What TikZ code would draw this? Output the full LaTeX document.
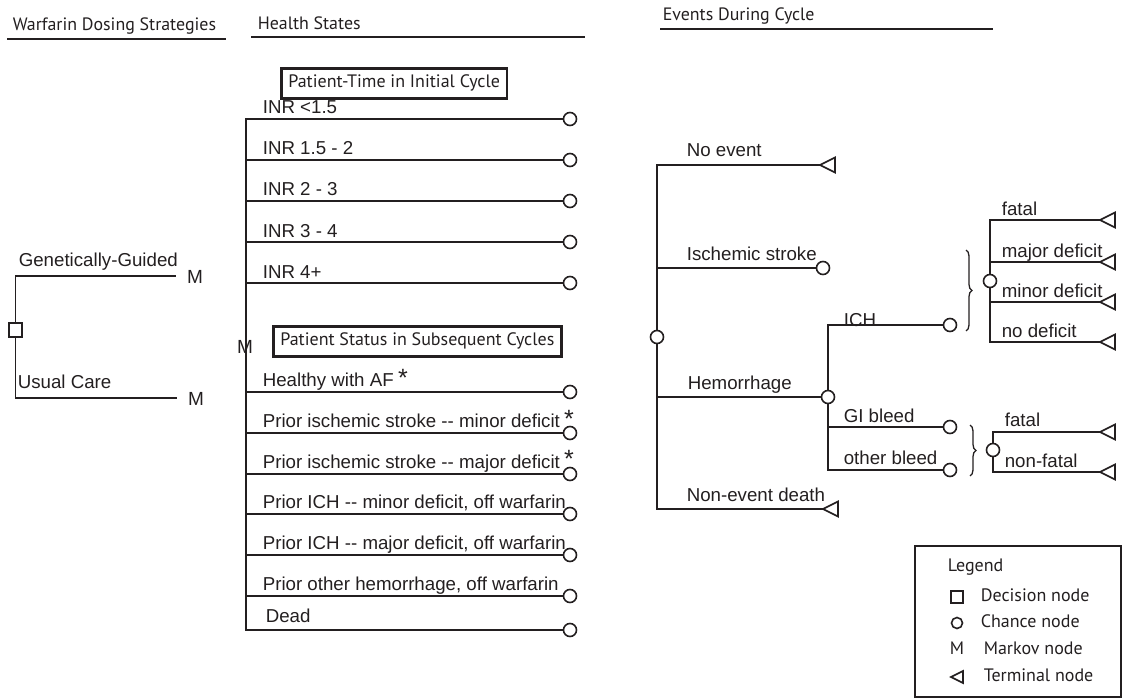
\documentclass[tikz,border=0pt]{standalone}
\usepackage{fontspec}
\setmainfont{Liberation Sans}
\newfontfamily\hdr{PT Sans}
\usetikzlibrary{decorations.pathreplacing}
\definecolor{ink}{RGB}{35,31,32}
\begin{document}
\begin{tikzpicture}[x=1pt,y=-1pt, line width=1.6pt, color=ink,
  lab/.style={anchor=base west, inner sep=0pt, font=\fontsize{18.7}{20}\selectfont},
  hd/.style={anchor=base west, inner sep=0pt, font=\hdr\fontsize{17.9}{20}\selectfont},
  leg/.style={anchor=base west, inner sep=0pt, font=\hdr\fontsize{18}{20}\selectfont},
  chance/.style={circle, draw=ink, fill=white, minimum size=13pt, inner sep=0pt, line width=1.6pt},
  dec/.style={rectangle, draw=ink, fill=white, minimum width=13pt, minimum height=14pt, inner sep=0pt, line width=1.6pt},
  mk/.style={anchor=base, inner sep=0pt, font=\fontsize{19}{20}\selectfont},
  ast/.style={anchor=base, inner sep=0pt, font=\fontsize{25}{25}\selectfont},
  sbox/.style={draw=ink, line width=2.6pt, anchor=north west, inner xsep=7pt, inner ysep=0pt, minimum height=30pt, font=\hdr\fontsize{18}{20}\selectfont},
  term/.pic={\draw[ink, line width=1.6pt, line join=miter] (0,0) -- (15,-7.5) -- (15,7.5) -- cycle;},
  uline/.style={line width=2.2pt}
]
\useasboundingbox (0,0) rectangle (1122,698);

% ---------- headers ----------
\node[hd] (hA) at (12,31) {Warfarin Dosing Strategies};
\draw[uline] (7,39) -- (226,39);
\node[hd] (hB) at (257,30) {Health States};
\draw[uline] (251,37) -- (585,37);
\node[hd] (hC) at (662,21) {Events During Cycle};
\draw[uline] (660,29) -- (993,29);

% ---------- decision part ----------
\node[dec] (d) at (15.5,330) {};
\node[mk] (ggM) at (195,283) {M};
\node[mk] (ucM) at (196,405) {M};
\draw (d.north) |- ([yshift=7pt,xshift=-10pt]ggM.base west);
\draw (d.south) |- ([yshift=7pt,xshift=-10pt]ucM.base west);
\node[lab] (tGG) at (18,266) {Genetically-Guided};
\node[lab] (tUC) at (17,388) {Usual Care};

% ---------- health states ----------
\node[sbox] (box1) at (280,67) {Patient-Time in Initial Cycle};
\node[sbox] (box2) at (272,325) {Patient Status in Subsequent Cycles};

\node[chance] (h1) at (570,119) {};
\node[chance] (h2) at (570,160) {};
\node[chance] (h3) at (570,201) {};
\node[chance] (h4) at (570,242) {};
\node[chance] (h5) at (570,283) {};
\node[chance] (s1) at (570,392) {};
\node[chance] (s2) at (570,433) {};
\node[chance] (s3) at (570,474) {};
\node[chance] (s4) at (570,514) {};
\node[chance] (s5) at (570,555) {};
\node[chance] (s6) at (570,596) {};
\node[chance] (s7) at (570,630) {};

\coordinate (hm0) at (246,347);
\draw (246,119) -- (246,631);
\foreach \n in {h1,h2,h3,h4,h5,s1,s2,s3,s4,s5,s6,s7}{
  \draw (hm0) |- (\n.west);
}
\node[mk, anchor=center] (hm) at (245,347) {M};

\node[lab] (l1) at (262,114) {INR <1.5};
\node[lab] (l2) at (262,155) {INR 1.5 - 2};
\node[lab] (l3) at (262,196) {INR 2 - 3};
\node[lab] (l4) at (262,237) {INR 3 - 4};
\node[lab] (l5) at (262,278) {INR 4+};
\node[lab] (m1) at (262,386) {Healthy with AF};
\node[lab] (m2) at (262,427) {Prior ischemic stroke -{}- minor deficit};
\node[lab] (m3) at (262,468) {Prior ischemic stroke -{}- major deficit};
\node[lab] (m4) at (262,508) {Prior ICH -{}- minor deficit, off warfarin};
\node[lab] (m5) at (262,549) {Prior ICH -{}- major deficit, off warfarin};
\node[lab] (m6) at (262,590) {Prior other hemorrhage, off warfarin};
\node[lab] (m7) at (265,622) {Dead};
\node[ast] (a1) at (403,386) {*};
\node[ast] (a2) at (569,427) {*};
\node[ast] (a3) at (569,467) {*};

% ---------- events ----------
\node[chance] (e0) at (657,337) {};
\node[chance] (isc) at (823,268) {};
\node[chance] (hem) at (828,397) {};
\node[chance] (ich) at (950,325) {};
\node[chance] (gi) at (950,427) {};
\node[chance] (ob) at (950,470) {};
\node[chance] (ichs) at (990,281) {};
\node[chance] (gs) at (993,450) {};

\coordinate (noev) at (820,165);
\coordinate (ned) at (823,509);
\coordinate (f1) at (1100,220);
\coordinate (maj) at (1100,262);
\coordinate (mnr) at (1100,302);
\coordinate (nod) at (1100,342);
\coordinate (f2) at (1100,432);
\coordinate (nf) at (1100,472);
\foreach \t in {noev,ned,f1,maj,mnr,nod,f2,nf}{ \pic at (\t) {term}; }

\draw (e0.north) |- (noev);
\draw (e0.north) |- (isc.west);
\draw (e0.south) |- (hem.west);
\draw (e0.south) |- (ned);
\draw (hem.north) |- (ich.west);
\draw (hem.south) |- (gi.west);
\draw (hem.south) |- (ob.west);
\draw (ichs.north) |- (f1);
\draw (ichs.north) |- (maj);
\draw (ichs.south) |- (mnr);
\draw (ichs.south) |- (nod);
\draw (gs.north) |- (f2);
\draw (gs.south) |- (nf);

\draw[line width=1.3pt, decorate, decoration={brace, amplitude=6pt}] (966,250) -- (966,331);
\draw[line width=1.3pt, decorate, decoration={brace, amplitude=6pt}] (970,425) -- (970,476);

\node[lab] (tNE) at (686,157) {No event};
\node[lab] (tIS) at (686,260) {Ischemic stroke};
\node[lab] (tHE) at (687,389) {Hemorrhage};
\node[lab] (tND) at (686,501) {Non-event death};
\node[lab] (tICH) at (843,326) {ICH};
\node[lab] (tGI) at (843,422) {GI bleed};
\node[lab] (tOB) at (843,464) {other bleed};
\node[lab] (tF1) at (1001,215) {fatal};
\node[lab] (tMA) at (1001,257) {major deficit};
\node[lab] (tMI) at (1001,297) {minor deficit};
\node[lab] (tNO) at (1001,337) {no deficit};
\node[lab] (tF2) at (1004,426) {fatal};
\node[lab] (tNF) at (1004,467) {non-fatal};

% ---------- legend ----------
\draw[line width=1.6pt] (915,546) rectangle (1121,697);
\node[leg] (lgT) at (947,571) {Legend};
\node[dec, minimum width=12pt, minimum height=12pt] (lgD) at (957,597) {};
\node[leg] (lgDt) at (980,601) {Decision node};
\node[chance, minimum size=11pt] (lgC) at (957,623) {};
\node[leg] (lgCt) at (980,627) {Chance node};
\node[mk, font=\hdr\fontsize{18}{20}\selectfont] (lgM) at (957,654) {M};
\node[leg] (lgMt) at (983,654) {Markov node};
\coordinate (lgTr) at (951,677);
\pic[scale=0.8] at (lgTr) {term};
\node[leg] (lgTt) at (983,681) {Terminal node};
\end{tikzpicture}
\end{document}
